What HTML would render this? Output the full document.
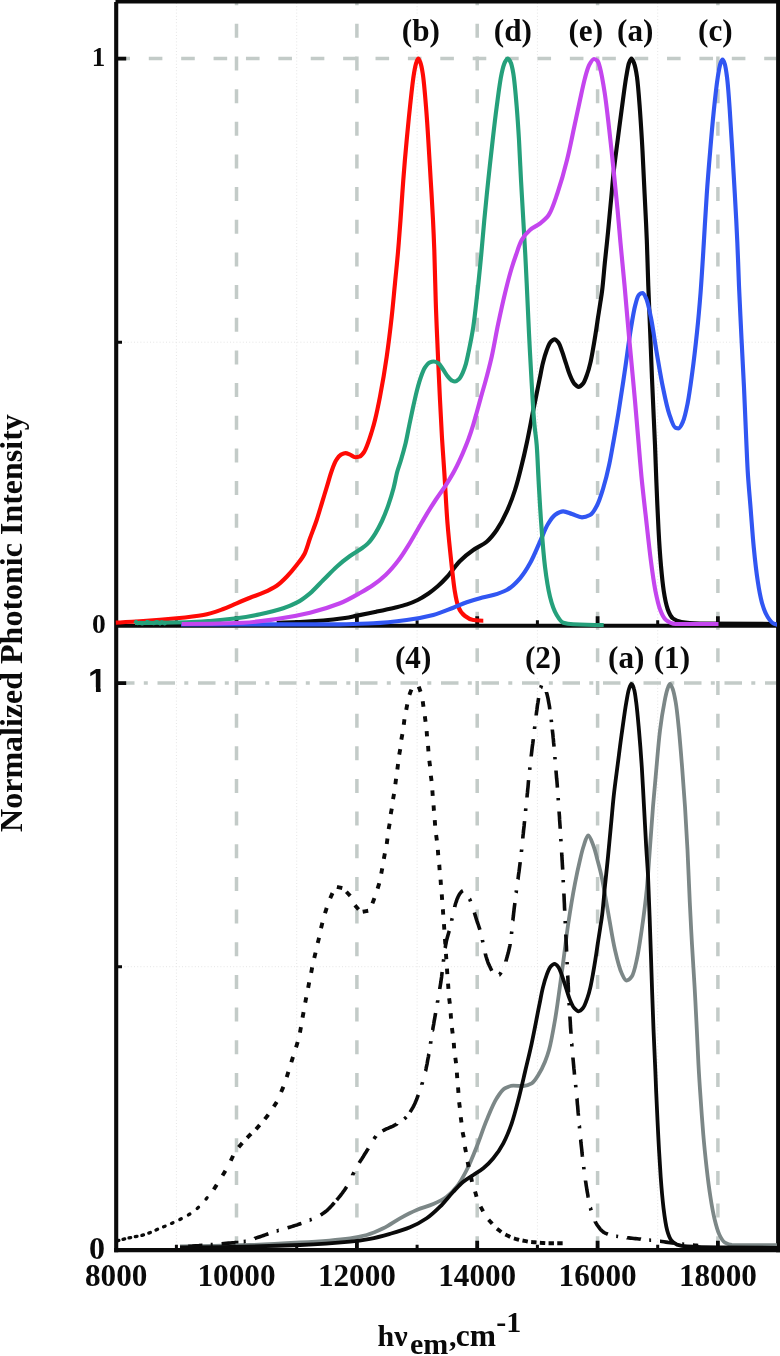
<!DOCTYPE html>
<html lang="en"><head><meta charset="utf-8"><title>Normalized Photonic Intensity</title>
<style>html,body{margin:0;padding:0;background:#fff}svg{display:block}</style></head>
<body>
<svg width="780" height="1356" viewBox="0 0 780 1356" role="img" aria-label="Normalized photonic intensity versus emission energy">
<rect width="780" height="1356" fill="#fff"/>
<g stroke="#e5e5e5" stroke-width="1" stroke-dasharray="1 2.2" fill="none">
<path d="M176.4,3V1250"/>
<path d="M296.7,3V1250"/>
<path d="M417.1,3V1250"/>
<path d="M537.4,3V1250"/>
<path d="M657.7,3V1250"/>
<path d="M118,342.2H776"/>
<path d="M118,966.7H776"/>
</g>
<g stroke="#c3cbc8" stroke-width="3.5" fill="none">
<path d="M236.5,625.7V0M236.5,1250.2V627.7" stroke-dasharray="14 18.66"/>
<path d="M356.9,625.7V0M356.9,1250.2V627.7" stroke-dasharray="14 18.66"/>
<path d="M477.2,625.7V0M477.2,1250.2V627.7" stroke-dasharray="14 18.66"/>
<path d="M597.6,625.7V0M597.6,1250.2V627.7" stroke-dasharray="14 18.66"/>
<path d="M717.9,625.7V0M717.9,1250.2V627.7" stroke-dasharray="14 18.66"/>
<path d="M116.4,58.6H776" stroke-dasharray="13.6 18.79"/>
<path d="M116.5,683.1H776" stroke-dasharray="17.5 9.3 4 9.7" stroke-dashoffset="-0.5"/>
</g>
<g stroke="#0a0a0a" fill="none" stroke-linecap="butt">
<path d="M116.2,2V1252.3" stroke-width="4.1"/>
<path d="M778.1,0V1252.3" stroke-width="4"/>
<path d="M115.5,1.8H780" stroke-width="3.5"/>
<path d="M115,625.7H780" stroke-width="4"/>
<path d="M114.2,1250.2H780" stroke-width="4.3"/>
<path d="M236.5,625.7v-9.5M356.9,625.7v-9.5M477.2,625.7v-9.5M597.6,625.7v-9.5M717.9,625.7v-9.5M236.5,1250.2v-9.5M356.9,1250.2v-9.5M477.2,1250.2v-9.5M597.6,1250.2v-9.5M717.9,1250.2v-9.5" stroke-width="3.8"/>
<path d="M176.4,625.7v-5.5M296.7,625.7v-5.5M417.1,625.7v-5.5M537.4,625.7v-5.5M657.7,625.7v-5.5M176.4,1250.2v-5.5M296.7,1250.2v-5.5M417.1,1250.2v-5.5M537.4,1250.2v-5.5M657.7,1250.2v-5.5" stroke-width="3"/>
<path d="M118,58.6h8.2M118,683.1h8.2" stroke-width="3.6"/>
<path d="M118,342.2h4M118,966.7h4" stroke-width="3"/>
</g>
<g fill="none" stroke-width="4.15" stroke-linejoin="round" stroke-linecap="butt">
<path stroke="#0a0a0a" d="M276.7,622.7C295.2,622.3 310.9,621.4 323.3,620.5C331.8,619.9 338.9,618.9 345,618C349.6,617.3 352.6,616.5 357,615.6C362.6,614.5 369.9,613 376.2,611.7C382.4,610.4 389.1,609 394.6,607.7C399.1,606.6 403.1,605.7 407,604.4C410.7,603.2 414.2,601.7 417.7,600C421.4,598.2 425.1,595.8 428.5,593.5C431.8,591.3 434.7,588.9 437.7,586.3C440.9,583.5 443.7,580.6 447,577C451.1,572.5 455.4,565.6 460,561C464.2,556.8 468.7,553.2 473.3,550C477.6,546.9 482.9,545 486.7,541.7C490.5,538.5 493.6,534.5 496.7,530C500.3,524.8 503.8,518.2 506.7,511.7C509.8,504.9 512.7,497.3 515,490C517.3,482.8 519.1,475.7 521,468C523.1,459.7 525.1,451.1 527,442C529.2,431.9 531.2,420.5 533.3,410C535.4,399.8 537.8,388.2 539.5,379.7C540.8,373.4 541.6,368.2 542.9,363.1C544,358.5 545.3,354 546.7,350.3C547.8,347.3 549,343.9 550.5,342.2C551.6,340.9 553.3,339.3 554.6,339.3C555.9,339.3 557.3,341.2 558.4,342.6C559.9,344.6 560.9,348.3 562.1,351.5C563.4,355.1 564.6,359.2 565.9,363.1C567.2,366.9 568.3,371.1 569.7,374.6C571,377.8 572.5,381.7 574.2,383.6C575.5,385 577.1,386.8 578.6,386.8C580.1,386.8 581.8,385 583,383.6C584.6,381.7 585.9,377.8 587,374.6C588.3,371.1 589.4,367.1 590.3,363.1C591.3,359 592,354.8 592.8,350.3C593.7,345.4 594.6,340.1 595.4,334.9C596.3,329.5 597.1,323.7 597.9,318.2C598.7,313 599.6,307.7 600.3,302.8C601,298.3 601.6,295 602.2,290C603.1,282.8 603.9,272.3 604.8,263C605.8,253.1 607,242.5 608,232.3C609,222 609.9,211.8 610.9,201.5C611.9,191.3 612.7,181 613.8,170.8C614.9,160.5 616.4,150.1 617.7,140C619,130.1 620.1,120.9 621.5,110.8C623,99.9 624.7,85.7 626.2,77C627.2,71.4 627.9,66.2 629,63C629.7,61.1 630.6,58.5 631.4,58.5C632.2,58.5 633.3,61.1 634,63C635.2,66.2 636.2,71.4 637,77C638.2,85.6 639.1,99.1 640,110.8C640.9,123.6 641.8,137.2 642.5,150.8C643.3,164.9 643.9,179.2 644.6,193.8C645.3,208.9 646.2,224.6 646.8,240C647.4,255.3 647.7,270.6 648.3,286C648.9,301.4 649.6,316.9 650.2,332.3C650.8,347.7 651.4,363.7 652,378.5C652.6,392.3 653.3,406.6 653.8,418.5C654.2,428.2 654.6,435.6 655,445C655.4,455.8 655.8,467.4 656.3,480C656.9,495 657.7,514 658.5,529.2C659.2,542.3 660,555 661,566C661.8,575.1 662.6,583.2 663.7,590.8C664.7,597.4 666,604.3 667.7,609.2C669,612.9 670.8,616.7 673,618.5C675.1,620.2 678.1,621.4 681.5,622C686.3,622.8 692,623.3 700,623.5C716.1,623.8 742.1,624 776,624"/>
<path stroke="#ff0a05" d="M115.8,622.6C124.5,622.2 133.7,621.6 143.3,621C153.9,620.3 166.2,619.3 176.7,618.3C186.1,617.4 195.2,616.5 203.3,615C210.5,613.7 217.4,611.1 223.3,609C228.2,607.2 232.2,605.2 236.7,603.3C241.1,601.4 245.5,599.5 250,597.7C254.4,595.9 258.9,594.6 263.3,592.7C267.8,590.7 272.8,588.4 276.7,585.7C280.4,583.2 283.5,580 286.7,576.7C290.1,573.2 293.7,568.9 296.7,565C299.5,561.4 302.3,558.3 304.3,554.3C306.6,549.7 308,543.8 310,538.3C312.1,532.4 314.7,526 316.7,520C318.6,514.3 320.1,508.9 321.8,503.3C323.5,497.8 325.2,492.2 326.9,486.7C328.6,481.1 330.2,474.8 332,470C333.4,466.1 334.8,462.3 336.5,459.7C337.8,457.6 339.4,455.5 341,454.6C342.4,453.9 344,453.1 345.5,453.1C347,453.1 348.5,454 350,454.6C351.7,455.3 353.4,457.2 355.1,457.2C356.6,457.2 358.2,456.9 359.6,456.5C361.2,456 362.9,453.8 364.1,452C365.6,449.7 366.8,446.2 368,443C369.4,439.4 370.6,435.3 371.8,431.5C373,427.7 373.9,424.5 375,420C376.6,413.7 378.3,405.5 380,396.7C382.2,385.3 384.8,370.1 386.7,356.7C388.6,343.4 390.3,329.4 391.7,316.7C393,305.1 393.9,294.3 395,283.3C396,272.7 397.1,262.5 398,252C398.9,241.4 399.7,231.3 400.5,220C401.4,207.4 402.3,193.3 403.3,180C404.3,166.7 405.5,152.7 406.7,140C407.8,128.4 408.8,117.8 410,106.7C411.2,95.6 412.6,81.3 414,73.3C414.8,68.6 415.6,64.5 416.5,62C417,60.5 417.7,58.5 418.3,58.5C418.9,58.5 419.6,60.5 420.2,62C421.2,64.5 422,68.6 422.7,73.3C424,81.3 425.1,95.6 426,106.7C426.9,117.8 427.6,128.4 428.3,140C429.1,152.7 429.9,166.7 430.7,180C431.5,193.3 432.4,207.6 433,220C433.5,230.7 433.9,238.8 434.3,250C434.8,264.5 435.2,283.3 435.7,300C436.2,316.7 437,333.3 437.7,350C438.4,366.7 439.2,384.5 440,400C440.7,413.5 441.3,425.7 442,438C442.7,449.6 443.5,459.5 444.3,472C445.3,487.3 446.2,506.9 447.5,523.3C448.7,538.4 450.5,554.6 451.8,566.7C452.8,575.6 453.5,582.9 454.6,590C455.6,596 456.6,602.2 458.3,606.7C459.7,610.4 462.4,614 465,616C467.3,617.8 470.3,619.6 473.3,620C476.4,620.4 479.7,620.7 483.3,620.7"/>
<path stroke="#3156f2" d="M181,624.3C253.7,624.3 308.2,624.3 340,624.3C354.6,624.3 362.2,623.8 373.3,623.3C384.4,622.8 396.2,621.4 406.7,620C416.1,618.8 425.2,617.1 433.3,615C440.5,613.2 447.3,610 453.3,607.7C458.2,605.8 462.2,603.8 466.7,602.3C471.1,600.8 475.6,599.5 480,598.3C484.4,597.1 488.9,596.3 493.3,595C497.8,593.7 502.5,592.2 506.7,590C511.4,587.5 516.2,582.7 520,578.3C523.8,573.9 526.9,568.9 530,563.3C533.6,556.9 536.9,548.5 540,541.6C542.8,535.4 545.1,528.7 548,524C550.2,520.3 552.5,516.5 555.2,514.7C557.5,513.1 560.4,511.3 563.2,511.3C566,511.3 569,513 572,514C575.2,515 578.8,517.4 582,517.4C584.8,517.4 587.7,516.2 590,515C592.7,513.6 595.1,509.2 597,505.5C599.4,501 601.1,495.1 603,489C605.2,481.7 607.5,472.7 609.2,464.6C610.9,456.8 612,449.6 613.5,441.5C615.1,432.4 616.8,422.8 618.5,412.3C620.5,400 622.6,385.9 624.6,372.3C626.7,358.2 628.8,341.5 630.8,329.2C632.3,319.9 633.7,310.8 635.4,304.6C636.5,300.6 637.5,296.2 639,294.8C639.9,293.9 641.4,293 642.5,293C643.9,293 645.1,296.1 646.2,298.5C648,302.5 649.3,309.8 650.8,317C652.9,327 654.8,341.8 656.9,353.8C658.9,365.3 660.8,377.2 663,387.7C664.9,397 666.8,406.7 669.2,413.8C671,419.2 673.2,427 675.4,427.7C676.4,428 677.5,428.3 678.5,428.3C680.1,428.3 681.8,424.3 683,421.5C684.9,417.1 686.3,409.9 687.7,403C689.4,394.2 690.8,383.2 692.3,372.3C694,359.9 695.6,345.6 697,332.3C698.4,319 699.5,306.3 700.6,292.3C701.8,276.7 702.8,259.4 703.8,243C704.8,226.6 705.7,209.6 706.8,193.8C707.8,179 709,164.9 710.2,150.8C711.3,137.2 712.5,123.6 713.8,110.8C715,99.1 716.5,85.4 717.8,77C718.6,71.7 719.3,67.1 720.3,64C720.9,62.1 721.8,59.5 722.5,59.5C723.3,59.5 724.2,62.1 724.8,64C725.7,67 726.3,71.7 727,77C728.1,85.4 729,99.1 729.8,110.8C730.7,123.6 731.5,137.2 732.3,150.8C733.1,164.9 734,179.1 734.8,193.8C735.7,209.4 736.6,226.3 737.3,242C738,257 738.4,270.7 739,286C739.7,302.7 740.7,321.3 741.5,338.5C742.3,355.2 743.2,371 744,387.7C744.8,405.1 745.6,425.9 746.3,441C746.8,452.3 747.1,460.2 747.7,470.8C748.4,483.1 749.8,497.7 750.8,510.8C751.8,523.3 752.6,535.7 753.8,547.7C754.9,559.2 756.3,571.6 757.8,581.5C759,589.5 760.3,596.7 762,603C763.5,608.2 765.5,613.5 767.7,617C769.4,619.7 771.9,622.9 773.8,623.7C774.9,624.2 776,624.6 777,624.6"/>
<path stroke="#25a07b" d="M135,623C155.6,623 173,622.7 186.7,622.3C195.9,622.1 202,621.6 210,621C218.6,620.4 228.1,619.4 236.7,618.3C244.7,617.3 252.3,615.9 260,614.3C267.8,612.7 276.7,610.5 283.3,608.3C288.4,606.6 292.4,605 296.7,602.7C301.3,600.3 305.7,596.9 310,593.3C314.6,589.5 318.9,584.4 323.3,580C327.8,575.6 332.1,570.8 336.7,566.7C341,562.8 345.8,559 350,556C353.5,553.5 356.9,551.7 360,549.5C362.8,547.5 365.3,546 367.7,543.6C370.5,540.9 373.1,537 375.4,533.3C377.8,529.5 379.9,525.4 382,521C384.3,516 386.6,510.1 388.5,504.6C390.4,499.1 392.1,493.6 393.6,488C395,482.5 396,476.3 397.4,471.3C398.5,467.2 399.8,464.1 401,460C402.5,455 404.2,449.1 405.6,443.3C407,437.2 408.2,430.4 409.5,424.1C410.8,418 412,412.1 413.3,406.2C414.6,400.5 415.8,394.7 417.2,389.5C418.4,384.9 419.6,380.5 421,376.7C422.2,373.4 423.4,370.1 424.9,367.7C426.2,365.7 427.8,363.3 429.4,362.6C430.7,362 432.3,361.5 433.8,361.5C435.3,361.5 437,362.4 438.3,363.2C440,364.2 441.3,366.9 442.8,369C444.5,371.3 446.2,374.7 447.9,376.7C449.2,378.2 450.5,379.9 451.8,380.5C452.8,381 453.9,381.5 455,381.5C456.2,381.5 457.7,380.2 458.8,379.2C460.3,377.9 461.6,375.2 462.7,372.8C463.9,370.1 465,366.9 465.9,363.8C466.8,360.5 467.4,357.5 468.3,353.3C469.7,346.6 471.9,336.1 473.3,326.7C474.9,316.2 476,304.8 477.3,293.3C478.7,281 480,267.5 481.2,255C482.3,243.1 483.2,232 484.3,220C485.5,207.1 486.9,193.3 488.3,180C489.7,166.7 491.2,152.7 492.7,140C494,128.4 495.2,117.8 496.7,106.7C498.2,95.6 499.9,81.2 501.7,73.3C502.7,68.6 503.7,64.5 505,62C505.8,60.5 506.8,58.5 507.7,58.5C508.6,58.5 509.8,60.5 510.5,62C511.7,64.4 512.5,68.6 513.3,73.3C514.6,81.2 515.8,95.6 516.7,106.7C517.6,117.8 518.3,128.4 519,140C519.7,152.7 520.3,166.7 521,180C521.7,193.3 522.6,207.1 523.3,220C524,232.1 524.7,244 525.3,255C525.8,264.9 526.2,272.6 526.7,283.3C527.4,297.5 528.2,316.6 529,333.3C529.8,350 530.8,367.6 531.7,383.3C532.5,397.4 533.3,412.1 534.3,423.3C535,431.6 536.1,437.2 536.7,445C537.4,454.2 537.8,465 538.3,475C538.8,485 539.4,495.5 540,505C540.5,513.7 541,520.9 541.7,530C542.5,541 543.6,555.1 545,566.7C546.3,577.2 547.9,588.1 550,596.7C551.7,603.6 554.1,610.6 556.7,615C558.6,618.2 560.6,621.8 563.3,622.7C565.9,623.6 569.2,624.1 573.3,624.3C580.5,624.7 590.8,625 603.7,625"/>
<path stroke="#25a07b" stroke-width="3.6" d="M135,623.4L136,621.6L137.6,623.3L139.2,622.5L140.8,623.2L142.4,623.8L144,622.7L145.6,622.7L147.2,621.6L148.8,622.1L150.4,622.6L152,623.1L153.6,623.4L155.2,622.4L156.8,621.6L158.4,622.1L160,623.7L161.6,621.9L163.2,622.5L164.8,623.7L166.4,621.5"/>
<path stroke="#c445ee" d="M181.7,624C205.4,624 226,623.4 243.3,622.7C256,622.2 265.6,620.6 276.7,619C287.8,617.4 299.3,615.3 310,612.7C320.3,610.2 331.2,606.8 340,603.3C347.4,600.3 354.2,596.3 360,593C364.8,590.3 368.6,588.2 372.8,585.3C377.2,582.3 381.5,578.9 385.6,575C390.1,570.8 394.6,565.4 398.5,560.3C402.2,555.4 405.5,550.1 408.7,544.9C411.9,539.8 414.7,534.6 417.7,529.5C420.7,524.4 423.7,519.1 426.7,514.1C429.6,509.3 432.5,504.8 435.6,500C438.9,494.9 442.9,489.8 446.2,484.6C449.4,479.5 452.5,474.4 455.2,469.2C457.9,464.1 460.2,459 462.5,453.8C464.7,448.7 466.9,443.5 468.7,438.5C470.4,433.8 471.9,429.2 473.3,424.6C474.7,420 475.9,415.4 477.2,410.8C478.5,406.2 479.7,401.5 481,396.9C482.3,392.3 483.5,388.3 485,383C487,375.7 489.6,366 491.7,356.7C494,346.3 496,334.1 498.3,323.3C500.5,313 502.7,302.8 505,293.3C507.1,284.5 509.6,274.9 511.7,268C513.2,263 514.4,259.5 516,255C517.7,250.2 519.3,244.2 521.7,240C523.8,236.2 526.9,232.7 530,230C533,227.4 536.9,225.9 540,223.5C543.1,221 546.2,218.6 548.7,215C552.1,209.9 554.7,201.1 557.5,193C560.8,183.2 564.3,171 567,160C569.7,149.3 571.8,138.3 574,128C576.1,118.4 578.1,108.8 580,100C581.7,92.2 583.3,84.3 585,78C586.3,73.1 587.5,68.3 589.2,65C590.5,62.6 592.4,59 594,59C595.2,59 596.7,60.1 597.5,61C598.6,62.2 599.2,64.8 600,67.7C601.5,73.1 603.2,83.3 604.6,92.3C606.3,103.3 607.7,116.4 609.2,129.2C610.8,143 612.4,158.5 613.8,172.3C615.1,185.1 616.4,197.2 617.5,209.2C618.6,220.7 619.4,231.1 620.5,243C621.7,256.5 623.2,271 624.6,286C626.1,302.6 627.6,321.3 629.2,338.5C630.7,355.2 632.3,371.4 633.8,387.7C635.3,403.9 636.7,420.6 638,436C639.2,450.2 640.2,463.2 641.5,477C642.9,491.2 644.6,505.9 646.2,520C647.7,533.6 649.2,547.6 650.8,560C652.2,570.9 653.7,581.9 655.4,590.8C656.8,597.7 658.1,604.1 660,609.2C661.5,613.3 663.5,617.9 666,620C668.3,621.9 671.3,624 675.4,624C683.9,624 698.8,624 718.5,624"/>
<path stroke="#7c8787" stroke-width="3.8" d="M180,1246.5C205.3,1246.3 228.7,1245.7 250,1245C268,1244.4 283.3,1243.5 300,1242.5C316.7,1241.5 338.1,1239.9 350,1238.3C356.9,1237.4 361.2,1236.5 366.7,1235C372.3,1233.5 377.9,1230.9 383.3,1228.3C389,1225.6 394.4,1221.4 400,1218.3C405.5,1215.3 411.1,1212.4 416.7,1210C422.2,1207.7 428.2,1206.3 433.3,1204C438.1,1201.9 442.8,1199.6 446.7,1196.7C450.5,1193.9 453.6,1190.6 456.7,1186.7C460.3,1182.1 463.6,1176.1 466.7,1170C470.3,1163 473.5,1154.8 476.7,1146.7C480.1,1138.1 483.2,1128.4 486.7,1120C489.9,1112.3 493.2,1103.8 496.7,1098.3C499.3,1094.2 501.9,1089.9 505,1088.3C507.5,1087 510.4,1085.7 513.3,1085.7C516.4,1085.7 520.2,1086 523.3,1086C526.3,1086 529.4,1084.6 531.7,1083.3C534.3,1081.9 536.3,1078.2 538.3,1075C540.7,1071.2 543.2,1066.1 545,1061.7C546.6,1057.7 547.7,1054.7 549,1050C551.1,1042.5 553.1,1031.1 555,1020C557.4,1006.2 559.5,989.1 561.7,973.3C564,956.9 566,939 568.3,923.3C570.4,909.2 572.8,894.7 575,883.3C576.7,874.5 578.4,866.7 580,860C581.2,854.9 582.1,850.7 583.5,846.5C584.8,842.6 586.5,835.5 588.2,835.5C589.9,835.5 592,842.1 593.5,846C595.3,850.7 596.6,856.7 598,862C599.3,867.1 600.4,871 601.7,877C603.7,886.3 606.1,901.2 608.3,913.3C610.5,925.5 612.5,939.3 615,950C617,958.7 619.2,968.1 621.7,973.3C623.2,976.4 624.7,980.5 626.5,980.5C628,980.5 630.4,978.5 631.7,976.7C633.8,973.8 635.3,966.4 636.7,960C638.6,951.6 640.1,940.7 641.7,930C643.5,917.7 645.4,903.3 646.7,890C648,876.7 648.8,863.6 649.8,850C650.9,835.9 651.9,820.8 653,806.7C654.1,793.2 655.3,780.1 656.5,767.2C657.6,754.7 658.6,741.9 660,730.5C661.2,720.5 662.9,709.8 664.4,702.3C665.4,697.1 666.3,692.2 667.5,689C668.2,686.9 669.1,684 670,684C670.9,684 671.9,686.9 672.7,689C673.9,692.2 674.8,697.1 675.7,702.3C677,709.8 678,720.5 679,730.5C680.1,741.9 681.1,754.7 682.1,767.2C683.1,780.1 684.1,793.2 685,806.7C685.9,820.8 686.7,834.9 687.5,850C688.3,866.6 689,885.8 689.8,902.3C690.5,917.1 691.2,930.5 692,944.6C692.8,958.7 693.8,972.9 694.6,987C695.4,1001.1 696.1,1015.8 696.8,1029.3C697.4,1041.7 697.9,1053.9 698.5,1065C699,1074.7 699.5,1082.2 700.2,1092.3C701,1104.8 702.2,1121.3 703.3,1134.6C704.3,1146.5 705.5,1157.7 706.7,1168.5C707.8,1178.3 709,1187.9 710.4,1196.7C711.6,1204.6 713,1212.5 714.6,1219.2C716,1224.9 717.5,1230.7 719.4,1234.8C720.9,1237.9 722.8,1241.4 725,1242.7C726.9,1243.8 728.8,1244.9 732,1245C739.8,1245.1 755.4,1245.2 777,1245.2"/>
<path stroke="#0a0a0a" stroke-width="3.8" d="M180,1247.5C228.6,1247.2 269.1,1246.1 300,1245C320,1244.3 337.3,1243 350,1241.7C358,1240.9 363.4,1240 370,1238.8C376.7,1237.6 383.4,1235.7 390,1233.8C396.7,1231.9 403.8,1229.9 410,1227.3C415.9,1224.9 421.7,1221.7 426.7,1218.3C431.6,1215 435.7,1210.9 440,1206.7C444.6,1202.2 449.1,1196.1 453.3,1191.7C456.8,1188 459.8,1184.5 463.3,1181.7C466.5,1179.1 470,1177.2 473.3,1175C476.6,1172.8 480.1,1170.9 483.3,1168.3C486.8,1165.5 490.2,1162.1 493.3,1158.3C496.8,1154 500.4,1148.8 503.3,1143.3C506.5,1137.3 509.3,1130.3 511.7,1123.3C514.2,1115.9 516.2,1108.1 518.3,1100C520.6,1091.1 522.8,1081.4 525,1072C527.2,1062.5 529.5,1053.6 531.7,1043.3C534.3,1031.3 537.4,1014.3 539.5,1004.2C540.8,997.6 541.6,992.7 542.9,987.6C544,983 545.3,978.5 546.7,974.8C547.8,971.8 549,968.4 550.5,966.7C551.6,965.4 553.3,963.8 554.6,963.8C555.9,963.8 557.3,965.7 558.4,967.1C559.9,969.1 560.9,972.8 562.1,976C563.4,979.6 564.6,983.7 565.9,987.6C567.2,991.4 568.3,995.6 569.7,999.1C571,1002.3 572.5,1006.2 574.2,1008.1C575.5,1009.5 577.1,1011.3 578.6,1011.3C580.1,1011.3 581.8,1009.5 583,1008.1C584.6,1006.2 585.9,1002.3 587,999.1C588.3,995.6 589.4,991.6 590.3,987.6C591.3,983.5 592,979.3 592.8,974.8C593.7,969.9 594.6,964.6 595.4,959.4C596.3,954 597.1,948.2 597.9,942.7C598.7,937.5 599.6,932.2 600.3,927.3C601,922.8 601.6,919.5 602.2,914.5C603.1,907.3 603.9,896.8 604.8,887.5C605.8,877.6 607,867 608,856.8C609,846.5 609.9,836.3 610.9,826C611.9,815.8 612.7,805.5 613.8,795.3C614.9,785 616.4,774.6 617.7,764.5C619,754.6 620.1,745.3 621.5,735.3C623,724.6 624.8,710.7 626.3,702.3C627.3,697 627.9,692.2 629,689C629.7,686.9 630.6,684 631.4,684C632.2,684 633.4,686.9 634,689C635,692.2 635.5,697.1 636.2,702.3C637.2,709.8 638.1,720.5 639,730.5C640,741.9 641,754.7 641.8,767.2C642.6,780.1 643.3,793.8 644,806.7C644.7,819.2 645.3,831.6 646,843.4C646.6,854.3 647.4,863.8 648,875C648.6,887.8 649.1,901.6 649.6,916.4C650.2,933.7 650.9,954 651.5,972.8C652.1,991.6 652.8,1012 653.5,1029.3C654.1,1043.9 654.8,1058.5 655.3,1070C655.7,1078.5 655.8,1083.8 656.2,1092.3C656.7,1104.1 657.5,1120.5 658.2,1134.6C658.9,1148.7 659.8,1164 660.7,1177C661.5,1188.1 662.4,1198.5 663.5,1208C664.5,1216.1 665.6,1224.7 667.2,1230.5C668.3,1234.5 669.6,1238.2 671.4,1240.4C672.8,1242.2 674.8,1243.8 677,1244.6C679.7,1245.5 682.8,1246.2 687,1246.5C694.6,1247 707.6,1247.4 720,1247.5C736.3,1247.7 755.4,1247.8 777,1247.8"/>
<path stroke="#0a0a0a" stroke-width="3.6" d="M188.6,1246.4L188.8,1246.3L192.3,1246.1L195.7,1245.8L199,1245.6L202.3,1245.3L202.4,1245.3M210.7,1244.6L211,1244.6L212.7,1244.5M221.6,1243.7L221.6,1243.7L224,1243.5L226.3,1243.3L228.5,1243.1L230.5,1243L232.4,1242.8L234.2,1242.7L235.4,1242.6M243.7,1241.6L243.8,1241.6L245.6,1241.3L245.7,1241.3M254.6,1238.6L254.7,1238.5L256.4,1237.9L258.2,1237.3L260,1236.7L261.7,1236.1L263.5,1235.5L265.2,1234.9L267,1234.3L268.4,1233.8M276.7,1231L276.8,1231L278.6,1230.4L278.7,1230.4M287.6,1227.8L287.6,1227.8L289.6,1227.2L291.6,1226.6L293.5,1226L295.4,1225.4L297.1,1224.9L298.8,1224.3L300.4,1223.7L301.4,1223.4M309.7,1220.1L309.8,1220.1L311.4,1219.4L311.7,1219.3M320.6,1215L320.6,1215L322.1,1214.1L323.6,1213.1L325,1212L326.5,1210.8L327.9,1209.6L329.3,1208.2L330.7,1206.7L332.1,1205.3L333.4,1203.8L334.4,1202.6M336.7,1200L336.7,1200L337.9,1198.6L339.1,1197.2L340.2,1195.8L341.3,1194.4L342.4,1193L343.4,1191.5L344.5,1190.1L345.5,1188.5L346.5,1187L346.7,1186.7M352.6,1175.2L352.6,1175.1L353.5,1173.2L354,1172.2M359.2,1162.9L359.3,1162.7L360.1,1161.4L361,1160.1L361.8,1158.9L362.6,1157.6L363.4,1156.4L364.1,1155.2L364.8,1154L365.6,1152.8L366.3,1151.7L367,1150.5L367.7,1149.4L368.3,1148.3M374,1138.9L374,1138.9L374.6,1138L375.2,1137.1L375.9,1136.3L376,1136.1M382.5,1131L382.5,1131L383.7,1130.3L385,1129.6L386.4,1128.9L387.9,1128.3L389.4,1127.6L390.9,1127L392.5,1126.3L393.9,1125.6L395.3,1124.8L396.7,1124.1L396.7,1124M404.3,1118.9L404.3,1118.9L405.5,1117.9L406.3,1117M410.1,1112.1L410.1,1112.1L411,1110.6L411.9,1109.1L412.8,1107.6L413.6,1106.1L414.4,1104.5L415.2,1102.8L415.9,1101.1L416.7,1099.3L417.3,1097.5L418,1095.7L418.3,1094.9M421.8,1084.7L421.8,1084.5L422.4,1082.7L422.5,1082.2M425.5,1071.1L425.6,1070.9L426,1069.1L426.3,1067.4L426.7,1065.6L427.1,1063.8L427.4,1062L427.7,1060.1L428.1,1058.2L428.5,1056.3L428.8,1054.2L428.9,1053.9M430.5,1043.7L430.5,1043.6L430.9,1041.3L430.9,1041.2M432.6,1030.1L432.7,1030.1L433,1027.9L433.4,1025.7L433.8,1023.6L434.1,1021.4L434.5,1019.3L434.9,1017.1L435.3,1014.9L435.6,1012.9M437.4,1002.7L437.4,1002.6L437.8,1000.5L437.8,1000.2M439.7,989.1L439.7,989L440.1,986.7L440.5,984.3L440.9,981.9L441.2,979.5L441.6,976.9L441.9,974.1L442.2,971.9M443.4,961.7L443.4,961.4L443.7,959.2M445.1,948.1L445.2,947.8L445.6,945.4L446,943.2L446.4,941.1L446.9,939.1L447.4,937.2L447.9,935.4L448.4,933.7L448.9,932L449.3,930.9M451.7,920.7L451.7,920.5L452,919L452.2,918.2M454.7,907.1L454.7,907L455.1,905.4L455.5,903.8L456,902.3L456.5,901L456.9,899.6L457.5,898.3L458,897L458.6,895.8L459.2,894.7L459.8,893.8L460.4,892.9L461.2,892.1L461.9,891.3L462.7,890.8L462.9,890.7M469.5,898.9L469.6,899L470.2,900.4L470.6,901.4M474.4,912.5L474.4,912.5L474.8,914L475.3,915.6L475.8,917.2L476.3,918.9L476.8,920.5L477.4,922.2L478,924L478.6,925.8L479.2,927.6L479.8,929.3L479.9,929.7M482.4,939.9L482.4,940L482.7,941.5L482.9,942.4M485.3,953.5L485.3,953.6L485.7,955.2L486.1,956.8L486.6,958.3L487,959.7L487.5,961L487.9,962.3L488.4,963.6L489,964.8L489.5,966L490.1,967.1L490.6,968.3L491.2,969.5L491.8,970.7M499.3,974.7L499.4,974.7L500.1,973.9L500.8,972.9L501.1,972.4M505.8,961.4L505.8,961.3L506.4,959.7L506.8,958L507.3,956.4L507.7,954.8L508.2,953.1L508.6,951.4L509,949.7L509.4,947.9L509.8,946.1L510.1,944.2L510.1,944.1M511.5,933.9L511.5,933.6L511.8,931.4M512.8,920.4L512.9,920.3L513.1,918L513.4,915.8L513.6,913.5L513.9,911.3L514.1,909L514.4,906.8L514.7,904.6L514.9,903.1M516.1,892.9L516.2,892.6L516.4,890.4M517.9,879.4L518,879.2L518.3,876.7L518.6,874.3L519,871.8L519.3,869.4L519.6,866.9L519.9,864.5L520.2,862.1M521.4,851.9L521.4,851.7L521.7,849.5L521.7,849.4M522.8,838.4L522.8,838.2L523,835.8L523.3,833.4L523.5,831L523.8,828.5L524.1,826L524.3,823.5L524.6,821.1M525.6,810.9L525.6,810.6L525.8,808.4M527,797.4L527,797.3L527.2,794.8L527.5,792.2L527.7,789.7L528,787.1L528.2,784.6L528.4,782L528.6,780.1M529.7,769.9L529.7,769.9L529.9,767.4M531.2,756.4L531.2,756.1L531.5,753.6L531.8,751L532.1,748.4L532.4,745.9L532.8,743.3L533.1,740.8L533.3,739.1M534.5,728.9L534.5,728.8L534.8,726.4M536.2,715.4L536.2,715.1L536.5,712.4L536.9,709.8L537.2,707.3L537.5,704.9L537.9,702.7L538.2,700.7L538.5,698.8L538.6,698.1M540.7,687.9L540.8,687.8L541.1,686.6L541.5,685.4L541.5,685.4M546.4,692.1L546.4,692.3L546.9,693.8L547.3,695.4L547.7,697.1L548.1,698.9L548.4,700.7L548.8,702.8L549.2,705L549.6,707.4L549.8,709.4M551.2,719.6L551.2,719.6L551.5,722.1M552.3,729.5L552.3,729.6L552.6,732.3L552.9,734.8L553.1,737.4L553.4,739.9L553.6,742.5L553.9,745.1L554,746.7M554.9,756.9L554.9,757.2L555.1,759.4M556,770.5L556,770.7L556.2,773.2L556.4,775.7L556.6,778.3L556.9,780.8L557.1,783.4L557.3,785.9L557.4,787.7M558.2,797.9L558.2,798.1L558.3,800.4M559.1,811.5L559.1,811.8L559.3,814.5L559.5,817.2L559.6,819.9L559.8,822.7L560,825.4L560.2,828.1L560.2,828.7M560.8,838.9L560.8,839L561,841.4M561.7,852.5L561.7,852.7L561.8,855.2L562,857.7L562.1,860.2L562.3,862.8L562.4,865.5L562.6,868.2L562.7,869.7M563.2,879.9L563.2,880.2L563.3,882.4M563.9,893.5L563.9,893.7L564.1,897.1L564.2,900.5L564.4,903.9L564.5,907.3L564.7,910.6L564.7,910.7M565.2,920.9L565.2,921.1L565.3,923.4M565.8,934.5L565.8,934.8L566,937.7L566.1,940.7L566.2,943.6L566.4,946.5L566.5,949.4L566.6,951.7M567.1,961.9L567.1,962.3L567.2,964.4M567.7,975.5L567.7,975.5L567.9,978.3L568,981.2L568.1,984L568.3,986.8L568.4,989.6L568.5,992.4L568.6,992.7M569.1,1002.9L569.1,1003.1L569.2,1005.4M569.9,1016.5L569.9,1016.7L570.1,1019.6L570.3,1022.4L570.4,1025.2L570.6,1028L570.8,1030.7L571,1033.4L571,1033.7M571.7,1043.9L571.8,1044L571.9,1046.1L571.9,1046.4M572.9,1057.5L572.9,1057.6L573.1,1059.5L573.3,1061.6L573.5,1063.8L573.7,1066.1L573.9,1068.5L574.2,1071L574.4,1073.6L574.5,1074.7M575.6,1084.9L575.6,1084.9L575.9,1087.4M576.9,1098.5L577,1098.7L577.2,1101.4L577.4,1104.1L577.7,1106.8L577.9,1109.5L578.1,1112.2L578.4,1114.9L578.4,1115.7M579.3,1125.9L579.4,1126.1L579.6,1128.4M580.6,1139.5L580.7,1139.7L580.9,1142.3L581.2,1145L581.5,1147.6L581.8,1150.2L582,1152.8L582.3,1155.4L582.5,1156.7M583.7,1166.9L583.7,1167L584,1169.4M585.5,1180.5L585.5,1180.7L585.9,1183.1L586.2,1185.4L586.6,1187.7L586.9,1189.9L587.3,1192.1L587.7,1194.3L588,1196.3L588.3,1197.7M590.4,1207.9L590.5,1208L590.9,1209.8L591.1,1210.4M595.2,1221.5L595.2,1221.6L596,1223L596.7,1224.3L597.5,1225.5L598.4,1226.7L599.3,1227.9L600.2,1229.1L601.2,1230.2L602.3,1231.2L603.4,1232.1L604.6,1232.8L605.9,1233.4L607.4,1234L607.9,1234.2M616.2,1236.2L616.3,1236.2L618.1,1236.5L618.1,1236.5M627,1237.7L627.2,1237.8L628.9,1237.9L630.5,1238.1L632.2,1238.3L633.9,1238.5L635.5,1238.6L637.2,1238.8L638.9,1239L640.6,1239.1L640.9,1239.2M649.2,1240L649.3,1240L650.9,1240.2L651.1,1240.2M660,1241.3L660.2,1241.3L662,1241.5L663.9,1241.8L666,1242.1L668,1242.4L670.2,1242.6L672.3,1242.9L673.9,1243.1M682.2,1244.1L682.3,1244.1L684.1,1244.3M693,1245.1L693.2,1245.1L694.9,1245.3L696.7,1245.4L698.2,1245.5"/>
<path stroke="#0a0a0a" stroke-width="3.3" stroke-linecap="round" d="M117.3,1240.8L118.9,1240.4M123,1239.4L124.7,1238.9M129,1237.9L130.7,1237.6M135.3,1236.7L137,1236.4M141.9,1235.4L143.5,1234.9M148.8,1233.1L150.4,1232.5M156,1230L157.6,1229.3M163.6,1226.8L165.1,1226.2M171.5,1223.4L173,1222.7M179.8,1219.5L181.3,1218.7M188.4,1214.9L189.9,1214M197.2,1208.4L198.5,1207.3M206,1199.1L207.1,1197.8"/>
<path stroke="#0a0a0a" stroke-width="3.9" stroke-linecap="square" d="M214.8,1187.8L215.7,1186.4M223.5,1173.9L224.4,1172.4M231.6,1159L232.3,1157.5M239.9,1145.8L241,1144.5M248.5,1136.4L249.7,1135.2M257.3,1127.7L258.4,1126.4M266,1117.6L267.1,1116.2M274.8,1105L275.7,1103.6M281.9,1090.2L282.6,1088.6M287.3,1075.3L287.8,1073.7M291.9,1060.4L292.4,1058.8M296.6,1045.5L297.1,1043.9M300.3,1030.6L300.6,1029M302.9,1015.7L303.2,1014.1M305.6,1000.8L305.9,999.2M308.5,985.9L308.8,984.3M311.5,971L311.8,969.4M314.7,956.1L315.1,954.5M318.2,941.2L318.6,939.6M321.5,926.3L321.9,924.7M325.6,911.4L326.1,909.8M331,896.5L331.7,894.9M338.8,887.3L340.4,887.7M347.7,893.2L348.9,894.5M356.2,906.7L357.3,908M364.6,911.4L366.3,911.1M373.1,901.6L373.7,900M378.2,886.7L378.7,885.1M381.6,871.8L381.9,870.2M384.2,856.9L384.5,855.3M387,842L387.2,840.4M389,827.1L389.3,825.5M391.1,812.2L391.4,810.6M393.4,797.3L393.7,795.7M395.6,782.4L395.8,780.8M397.6,767.5L397.8,765.9M399.6,752.6L399.9,751M401.7,737.7L402,736.1M404,722.8L404.2,721.2M406.6,707.9L406.9,706.3M410.1,693L410.7,691.4M419.4,688.5L419.9,689.9M423,703.3L423.2,704.8M425.1,718.2L425.3,719.7M426.8,733L426.9,734.5M428.2,747.9L428.3,749.4M429.6,762.7L429.8,764.2M431.1,777.6L431.3,779.1M432.5,792.4L432.6,793.9M433.7,807.3L433.8,808.8M434.9,822.1L435,823.6M436.4,837L436.6,838.5M438,851.8L438.1,853.3M439.4,866.7L439.5,868.2M440.7,881.5L440.8,883M441.9,896.4L442,897.9M443,911.2L443.1,912.7M444.1,926.1L444.2,927.6M445.1,940.9L445.2,942.4M446.1,955.8L446.2,957.3M447.1,970.6L447.2,972.1M448.2,985.5L448.3,987M449.4,1000.3L449.6,1001.8M450.8,1015.2L450.9,1016.7M452.2,1030L452.4,1031.5M453.9,1044.9L454,1046.4M455.6,1059.7L455.8,1061.2M457,1074.6L457.1,1076.1M458.2,1089.4L458.3,1090.9M459.4,1104.3L459.6,1105.8M461,1119.1L461.2,1120.6M463,1134L463.3,1135.4M465.3,1148.8L465.6,1150.3M468,1163.7L468.3,1165.1M471.3,1178.5L471.6,1180M475.6,1193.4L476,1194.8M481.5,1208.3L482.2,1209.6M489.9,1221.2L490.9,1222.3M498.5,1229.9L499.7,1230.8M507.1,1235.4L508.5,1236.1M515.8,1239L517.2,1239.4M524.4,1240.9L525.9,1241.2M533.1,1242.1L534.6,1242.2M541.8,1242.9L543.3,1243M550.5,1243.3L552,1243.3M559.2,1243.3L560.7,1243.3"/>
</g>
<g font-family="'Liberation Serif', serif" font-weight="bold" fill="#0a0a0a" font-size="30" text-anchor="middle">
<rect x="401.9" y="16" width="37.9" height="34" fill="#fff"/>
<text x="420.9" y="40.8" font-size="31.2">(b)</text>
<rect x="493.9" y="16" width="37.9" height="34" fill="#fff"/>
<text x="512.9" y="40.8" font-size="31.2">(d)</text>
<rect x="568.6" y="16" width="34.4" height="34" fill="#fff"/>
<text x="585.8" y="40.8" font-size="31.2">(e)</text>
<rect x="617.2" y="16" width="36.2" height="34" fill="#fff"/>
<text x="635.3" y="40.8" font-size="31.2">(a)</text>
<rect x="698.2" y="16" width="34.4" height="34" fill="#fff"/>
<text x="715.4" y="40.8" font-size="31.2">(c)</text>
<rect x="395" y="644" width="36.2" height="33" fill="#fff"/>
<text x="413.1" y="668.3" font-size="31.2">(4)</text>
<rect x="525" y="644" width="36.2" height="33" fill="#fff"/>
<text x="543.1" y="668.3" font-size="31.2">(2)</text>
<rect x="608.2" y="644" width="36.2" height="33" fill="#fff"/>
<text x="626.3" y="668.3" font-size="31.2">(a)</text>
<rect x="653.8" y="644" width="36.2" height="33" fill="#fff"/>
<text x="671.9" y="668.3" font-size="31.2">(1)</text>
<text x="116.2" y="1285.8" font-size="31.2">8000</text>
<text x="236.5" y="1285.8" font-size="31.2">10000</text>
<text x="356.9" y="1285.8" font-size="31.2">12000</text>
<text x="477.2" y="1285.8" font-size="31.2">14000</text>
<text x="597.6" y="1285.8" font-size="31.2">16000</text>
<text x="717.9" y="1285.8" font-size="31.2">18000</text>
<text x="98.4" y="66" font-size="27">1</text>
<text x="98.8" y="633.4" font-size="27.5">0</text>
<text x="96.9" y="1259" font-size="32">0</text>
<text x="97.4" y="691.8" font-size="33.5" font-family="'Liberation Sans', sans-serif">1</text>
<path d="M88,687.3h7.95v5.5h-7.95zM100.7,687.3h8v5.5h-8z" fill="#fff"/>
<text transform="translate(21.9,831.9) rotate(-90)" font-size="32" text-anchor="start">Normalized Photonic Intensity</text>
<text text-anchor="start"><tspan x="377.5" y="1345.6">hν</tspan><tspan x="410" y="1353.7">em</tspan><tspan x="448.9" y="1345.6">,</tspan><tspan x="455.8" y="1345.6" font-size="31.5">cm</tspan><tspan x="496.2" y="1331.8" font-size="30">-1</tspan></text>
</g>
</svg>
</body></html>
